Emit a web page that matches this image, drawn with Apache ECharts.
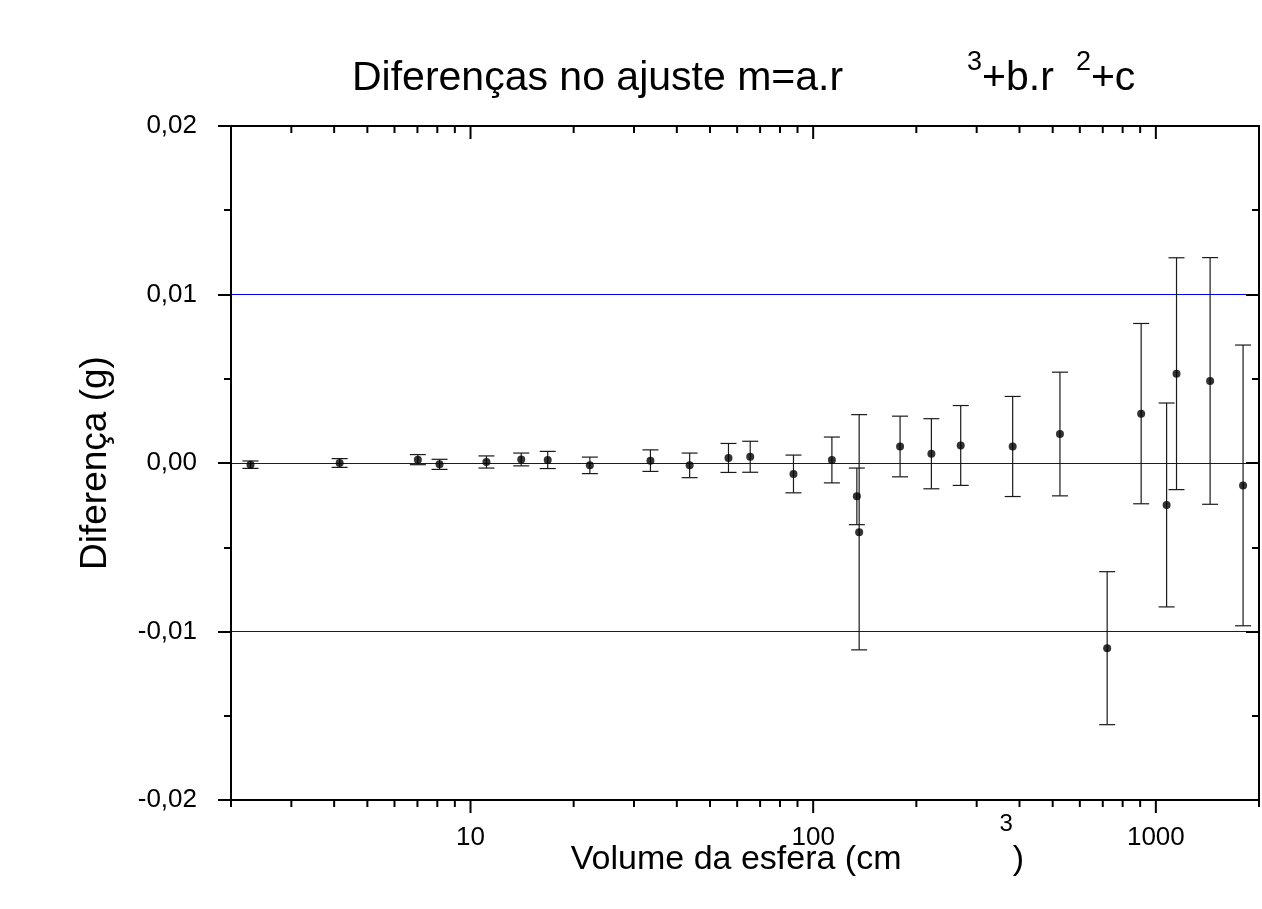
<!DOCTYPE html>
<html>
<head>
<meta charset="utf-8">
<title>Diferenças no ajuste</title>
<script src="https://cdn.jsdelivr.net/npm/echarts@6/dist/echarts.min.js"></script>
<style>
  html, body { margin: 0; padding: 0; background: #fff; }
  #chart { width: 1262px; height: 909px; }
</style>
</head>
<body>
<div id="chart"></div>
<script>
// Sphere volumes (cm^3)
const volumes = [2.28, 4.15, 7.02, 8.12, 11.13, 14.06, 16.8, 22.3, 33.5, 43.6, 56.6, 65.5, 87.6,
  113.4, 134.1, 136.2, 179.3, 221.3, 269.5, 382.1, 525, 721, 906, 1075, 1149, 1440, 1797];
// Residuals of the fit m = a.r^3 + b.r^2 + c (g)
const differences = [-0.0001, 0.0000, 0.0002, -0.00008, 0.00006, 0.00021, 0.00018, -0.00014,
  0.00014, -0.00014, 0.0003, 0.00037, -0.00065, 0.00018, -0.00198, -0.00411, 0.00098, 0.00055,
  0.00104, 0.00098, 0.00172, -0.01099, 0.00293, -0.00249, 0.0053, 0.00487, -0.00133];
// Uncertainty of each residual (g)
const uncertainties = [0.00022, 0.00026, 0.0003, 0.0003, 0.00036, 0.00038, 0.00051, 0.00049,
  0.00064, 0.00073, 0.00086, 0.00092, 0.00112, 0.00136, 0.00168, 0.00698, 0.0018, 0.00208,
  0.00237, 0.00297, 0.00367, 0.00454, 0.00535, 0.00605, 0.00688, 0.00732, 0.00833];

// Axis ranges and ticks
const xRange = [2, 2000];
const xMajorTicks = [10, 100, 1000];
const xMinorTicks = [2, 3, 4, 5, 6, 7, 8, 9, 20, 30, 40, 50, 60, 70, 80, 90,
  200, 300, 400, 500, 600, 700, 800, 900, 2000];
const yRange = [-0.02, 0.02];
const yStep = 0.01;
const refLines = [0.01, 0, -0.01];

const FONT = '"Liberation Sans", Arial, sans-serif';

const chart = echarts.init(document.getElementById('chart'), null, { renderer: 'canvas' });

const tickData = xMajorTicks.map(v => [v, 1]).concat(xMinorTicks.map(v => [v, 0]));
const refData = refLines.map(v => [xRange[0], v, xRange[1]]);
const errData = volumes.map((v, i) => [v, differences[i] - uncertainties[i], differences[i] + uncertainties[i]]);
const pointData = volumes.map((v, i) => [v, differences[i]]);

// snap a 1px line onto the pixel grid so it renders crisp
const crisp = y => Math.round(y - 0.5) + 0.5;

const logAxisBase = {
  type: 'log',
  logBase: 10,
  min: xRange[0],
  max: xRange[1],
  splitLine: { show: false },
  axisTick: { show: false },
  axisLine: { show: true, onZero: false, lineStyle: { color: '#000', width: 2 } },
  z: 5
};

const valueAxisBase = {
  type: 'value',
  min: yRange[0],
  max: yRange[1],
  interval: yStep,
  splitLine: { show: false },
  axisLine: { show: true, onZero: false, lineStyle: { color: '#000', width: 2 } },
  axisTick: { show: true, length: 13, lineStyle: { color: '#000', width: 2 } },
  minorTick: { show: true, splitNumber: 2, length: 7, lineStyle: { color: '#000', width: 2 } },
  z: 5
};

chart.setOption({
  animation: false,
  backgroundColor: '#fff',
  title: {
    left: 352,
    top: 49,
    padding: 0,
    text: '{m|Diferenças no ajuste m=a.r}{g1| }{s|3}{m|+b.r}{g2| }{s|2}{m|+c}',
    textStyle: {
      fontWeight: 'normal',
      rich: {
        m: { fontFamily: FONT, fontSize: 41, fontWeight: 'normal', color: '#000', verticalAlign: 'bottom', lineHeight: 50 },
        s: { fontFamily: FONT, fontSize: 27, fontWeight: 'normal', color: '#000', verticalAlign: 'top', lineHeight: 27 },
        g1: { width: 124, fontSize: 10 },
        g2: { width: 22, fontSize: 10 }
      }
    }
  },
  grid: { left: 231, right: 3, top: 126, bottom: 109, containLabel: false, outerBoundsMode: 'none' },
  xAxis: [
    Object.assign({}, logAxisBase, {
      position: 'bottom',
      axisLabel: {
        show: true,
        margin: 25,
        fontFamily: FONT,
        fontSize: 26,
        color: '#000',
        formatter: v => (xMajorTicks.some(t => Math.abs(t - v) / t < 1e-6) ? String(Math.round(v)) : '')
      },
      name: '{m|Volume da esfera (cm}{g| }{s|3}{m|)}',
      nameLocation: 'middle',
      nameGap: 12,
      nameMoveOverlap: false,
      nameTextStyle: {
        padding: [0, 0, 0, 105],
        rich: {
          m: { fontFamily: FONT, fontSize: 34, color: '#000', verticalAlign: 'bottom', lineHeight: 65 },
          s: { fontFamily: FONT, fontSize: 24, color: '#000', verticalAlign: 'top', lineHeight: 30 },
          g: { width: 98, fontSize: 10 }
        }
      }
    }),
    Object.assign({}, logAxisBase, {
      position: 'top',
      axisLabel: { show: false }
    })
  ],
  yAxis: [
    Object.assign({}, valueAxisBase, {
      position: 'left',
      axisLabel: {
        show: true,
        margin: 34,
        fontFamily: FONT,
        fontSize: 26,
        color: '#000',
        formatter: v => v.toFixed(2).replace('.', ',')
      },
      name: 'Diferença (g)',
      nameLocation: 'middle',
      nameGap: 117,
      nameMoveOverlap: false,
      nameTextStyle: { fontFamily: FONT, fontSize: 37, color: '#000' }
    }),
    Object.assign({}, valueAxisBase, {
      position: 'right',
      axisLabel: { show: false },
      axisTick: { show: true, inside: true, length: 13, lineStyle: { color: '#000', width: 2 } },
      minorTick: { show: true, splitNumber: 2, length: 7, lineStyle: { color: '#000', width: 2 } }
    })
  ],
  series: [
    {
      // blue horizontal reference lines across the plot
      type: 'custom',
      xAxisIndex: 0,
      yAxisIndex: 0,
      silent: true,
      data: refData,
      encode: { x: 0, y: 1 },
      renderItem: (params, api) => {
        const a = api.coord([api.value(0), api.value(1)]);
        const b = api.coord([api.value(2), api.value(1)]);
        const y = crisp(a[1]);
        return {
          type: 'line',
          shape: { x1: a[0], y1: y, x2: b[0], y2: y },
          style: { stroke: '#0000ff', lineWidth: 1 }
        };
      },
      z: 1
    },
    {
      // log ticks on the bottom (outward) and top (inward) x axes
      type: 'custom',
      xAxisIndex: 0,
      yAxisIndex: 0,
      clip: false,
      silent: true,
      data: tickData,
      renderItem: (params, api) => {
        const v = api.value(0);
        const len = api.value(1) ? 13 : 7;
        const pb = api.coord([v, yRange[0]]);
        const pt = api.coord([v, yRange[1]]);
        const style = { stroke: '#000', lineWidth: 2 };
        return {
          type: 'group',
          children: [
            { type: 'line', shape: { x1: pb[0], y1: pb[1], x2: pb[0], y2: pb[1] + len }, style },
            { type: 'line', shape: { x1: pt[0], y1: pt[1], x2: pt[0], y2: pt[1] + len }, style }
          ]
        };
      },
      z: 6
    },
    {
      // error bars
      type: 'custom',
      xAxisIndex: 0,
      yAxisIndex: 0,
      silent: true,
      data: errData,
      renderItem: (params, api) => {
        const lo = api.coord([api.value(0), api.value(1)]);
        const hi = api.coord([api.value(0), api.value(2)]);
        const hw = 8;
        const style = { stroke: '#1a1a1a', lineWidth: 1.2 };
        return {
          type: 'group',
          children: [
            { type: 'line', shape: { x1: lo[0], y1: lo[1], x2: hi[0], y2: hi[1] }, style },
            { type: 'line', shape: { x1: lo[0] - hw, y1: lo[1], x2: lo[0] + hw, y2: lo[1] }, style },
            { type: 'line', shape: { x1: hi[0] - hw, y1: hi[1], x2: hi[0] + hw, y2: hi[1] }, style }
          ]
        };
      },
      z: 3
    },
    {
      type: 'scatter',
      xAxisIndex: 0,
      yAxisIndex: 0,
      symbol: 'circle',
      symbolSize: 8,
      itemStyle: { color: '#000' },
      data: pointData,
      z: 4
    }
  ]
});
</script>
</body>
</html>
